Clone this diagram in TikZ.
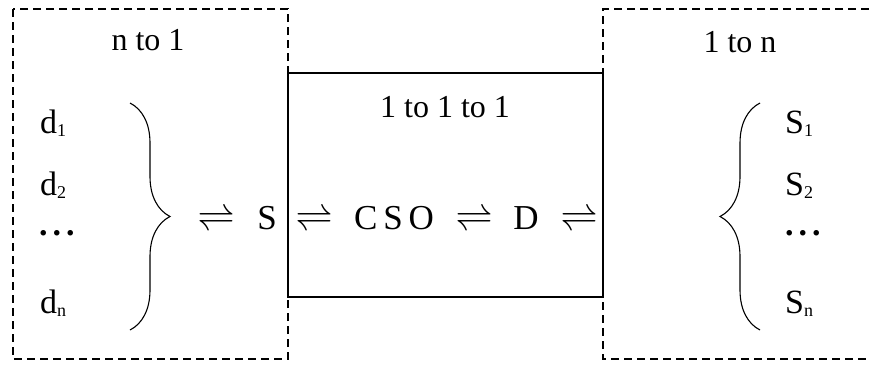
\documentclass[tikz,border=0pt]{standalone}
\usepackage{graphicx}
\usepackage{fontspec}
\setmainfont{Liberation Serif}
\usetikzlibrary{decorations.pathreplacing,positioning}
\newcommand{\idx}[1]{\raisebox{-3pt}{\fontsize{18}{18}\selectfont #1}}
\newcommand{\harp}{\scalebox{3.7}{\normalsize$\rightleftharpoons$}}
\newcommand{\moredots}{\textbf{.\hspace{5pt}.\hspace{5pt}.}}

\begin{document}
\begin{tikzpicture}[x=1pt,y=-1pt,
    groupbox/.style={draw, line width=1.1pt, dash pattern=on 8pt off 5pt},
    mainbox/.style={draw, line width=1.6pt},
    grouplabel/.style={font=\fontsize{32}{36}\selectfont, inner sep=0pt},
    term/.style={font=\fontsize{35}{40}\selectfont, inner sep=0pt},
    item/.style={font=\fontsize{34}{38}\selectfont, inner sep=0pt, anchor=base west},
    curly/.style={decorate, decoration={brace, amplitude=40pt}, line width=1.1pt}
  ]
    \useasboundingbox (0,0) rectangle (869,364);

    % dashed groups and the middle box
    \draw[groupbox] (13,9) rectangle (288,359);
    \draw[groupbox] (869,9) -- (603,9) -- (603,359) -- (869,359);
    \draw[mainbox, fill=white] (288,73) rectangle (603,297);

    % group titles
    \node[grouplabel] (ntoone) at (148,40) {n to 1};
    \node[grouplabel] (onetoone) at (445,107) {1 to 1 to 1};
    \node[grouplabel] (oneton) at (740,42) {1 to n};

    % left items
    \node[item] (da) at (40,133) {d\idx{1}};
    \node[item] (db) at (40,195) {d\idx{2}};
    \node[item] (dc) at (39,235) {\moredots};
    \node[item] (dd) at (40,313) {d\idx{n}};

    % right items
    \node[item] (sa) at (785,133) {S\idx{1}};
    \node[item] (sb) at (785,195) {S\idx{2}};
    \node[item] (sc) at (785,235) {\moredots};
    \node[item] (sd) at (785,313) {S\idx{n}};

    % braces
    \coordinate (ltop) at (130,103);
    \coordinate (lbot) at (130,330);
    \coordinate (rtop) at (760,103);
    \coordinate (rbot) at (760,330);
    \draw[curly] (ltop) -- (lbot);
    \draw[curly] (rbot) -- (rtop);

    % main row
    \node[term] (eqa) at (216,220) {\harp};
    \node[term] (src) at (267,218) {S};
    \node[term] (eqb) at (314,220) {\harp};
    \node[term] (cso) at (394,218) {C\,S\,O};
    \node[term] (eqc) at (474,220) {\harp};
    \node[term] (dst) at (526,218) {D};
    \node[term] (eqd) at (579,220) {\harp};
  \end{tikzpicture}
\end{document}
